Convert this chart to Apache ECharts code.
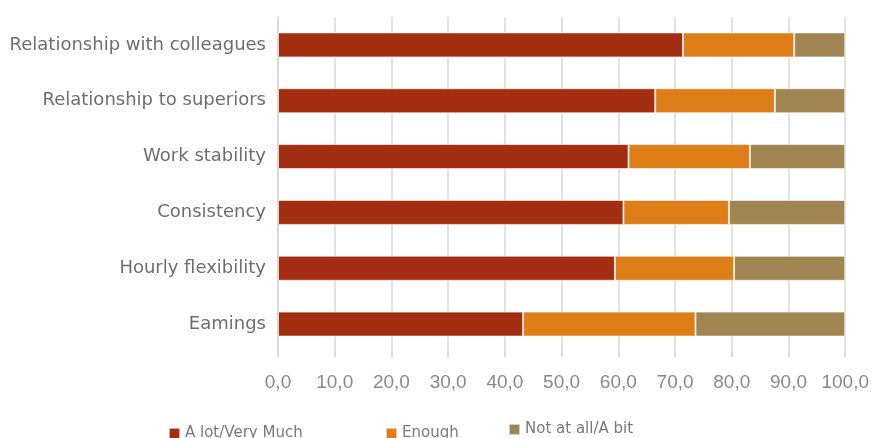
<!DOCTYPE html>
<html>
<head>
<meta charset="utf-8">
<script src="https://cdn.jsdelivr.net/npm/echarts@6/dist/echarts.min.js"></script>
<style>
  html, body { margin: 0; padding: 0; background: #ffffff; }
  #chart { width: 872px; height: 438px; }
</style>
</head>
<body>
<div id="chart"></div>
<script>
// Categories listed top to bottom (y axis is inverted)
const categories = [
  'Relationship with colleagues',
  'Relationship to superiors',
  'Work stability',
  'Consistency',
  'Hourly flexibility',
  'Eamings'
];
const seriesNames = ['A lot/Very Much', 'Enough', 'Not at all/A bit'];
const aLotValues = [71.4, 66.5, 61.8, 60.9, 59.4, 43.2];
const enoughValues = [19.6, 21.1, 21.4, 18.6, 21.0, 30.4];
const notAtAllValues = [9.0, 12.4, 16.8, 20.5, 19.6, 26.4];
const xTicks = [0, 10, 20, 30, 40, 50, 60, 70, 80, 90, 100];

const colors = ['#A32E11', '#DE7E19', '#A08552'];
const fontFamily = 'DejaVu Sans';

const chart = echarts.init(document.getElementById('chart'));

function makeSeries(name, data, color) {
  return {
    name: name,
    type: 'bar',
    stack: 'total',
    barWidth: 25,
    data: data,
    itemStyle: { color: color, borderColor: 'rgba(255,255,255,0.6)', borderWidth: 1 },
    emphasis: { disabled: true }
  };
}

function makeLegend(name, left, top) {
  return {
    data: [name],
    left: left,
    top: top,
    itemWidth: 11,
    itemHeight: 11,
    icon: 'rect',
    itemGap: 4,
    textStyle: { color: '#7a7a7a', fontSize: 15, fontFamily: fontFamily }
  };
}

chart.setOption({
  animation: false,
  color: colors,
  grid: { left: 278, right: 26, top: 17, bottom: 86 },
  legend: [
    makeLegend(seriesNames[0], 163, 421),
    makeLegend(seriesNames[1], 380, 421),
    makeLegend(seriesNames[2], 503, 417)
  ],
  xAxis: {
    type: 'value',
    min: xTicks[0],
    max: xTicks[xTicks.length - 1],
    interval: 10,
    axisLine: { show: false },
    axisTick: { show: true, length: 5, lineStyle: { color: '#d0d0d0', width: 1.5 } },
    splitLine: { show: true, lineStyle: { color: '#d9d9d9', width: 1.5 } },
    axisLabel: {
      color: '#8a8a8a',
      fontSize: 19,
      fontFamily: 'Liberation Sans',
      margin: 21,
      formatter: v => v.toFixed(1).replace('.', ',')
    }
  },
  yAxis: {
    type: 'category',
    inverse: true,
    data: categories,
    axisLine: { show: true, lineStyle: { color: '#d9d9d9', width: 1.5 } },
    axisTick: { show: false },
    axisLabel: {
      color: '#6e6e6e',
      fontSize: 18,
      fontFamily: fontFamily,
      margin: 12
    }
  },
  series: [
    makeSeries(seriesNames[0], aLotValues, colors[0]),
    makeSeries(seriesNames[1], enoughValues, colors[1]),
    makeSeries(seriesNames[2], notAtAllValues, colors[2])
  ]
});
</script>
</body>
</html>
